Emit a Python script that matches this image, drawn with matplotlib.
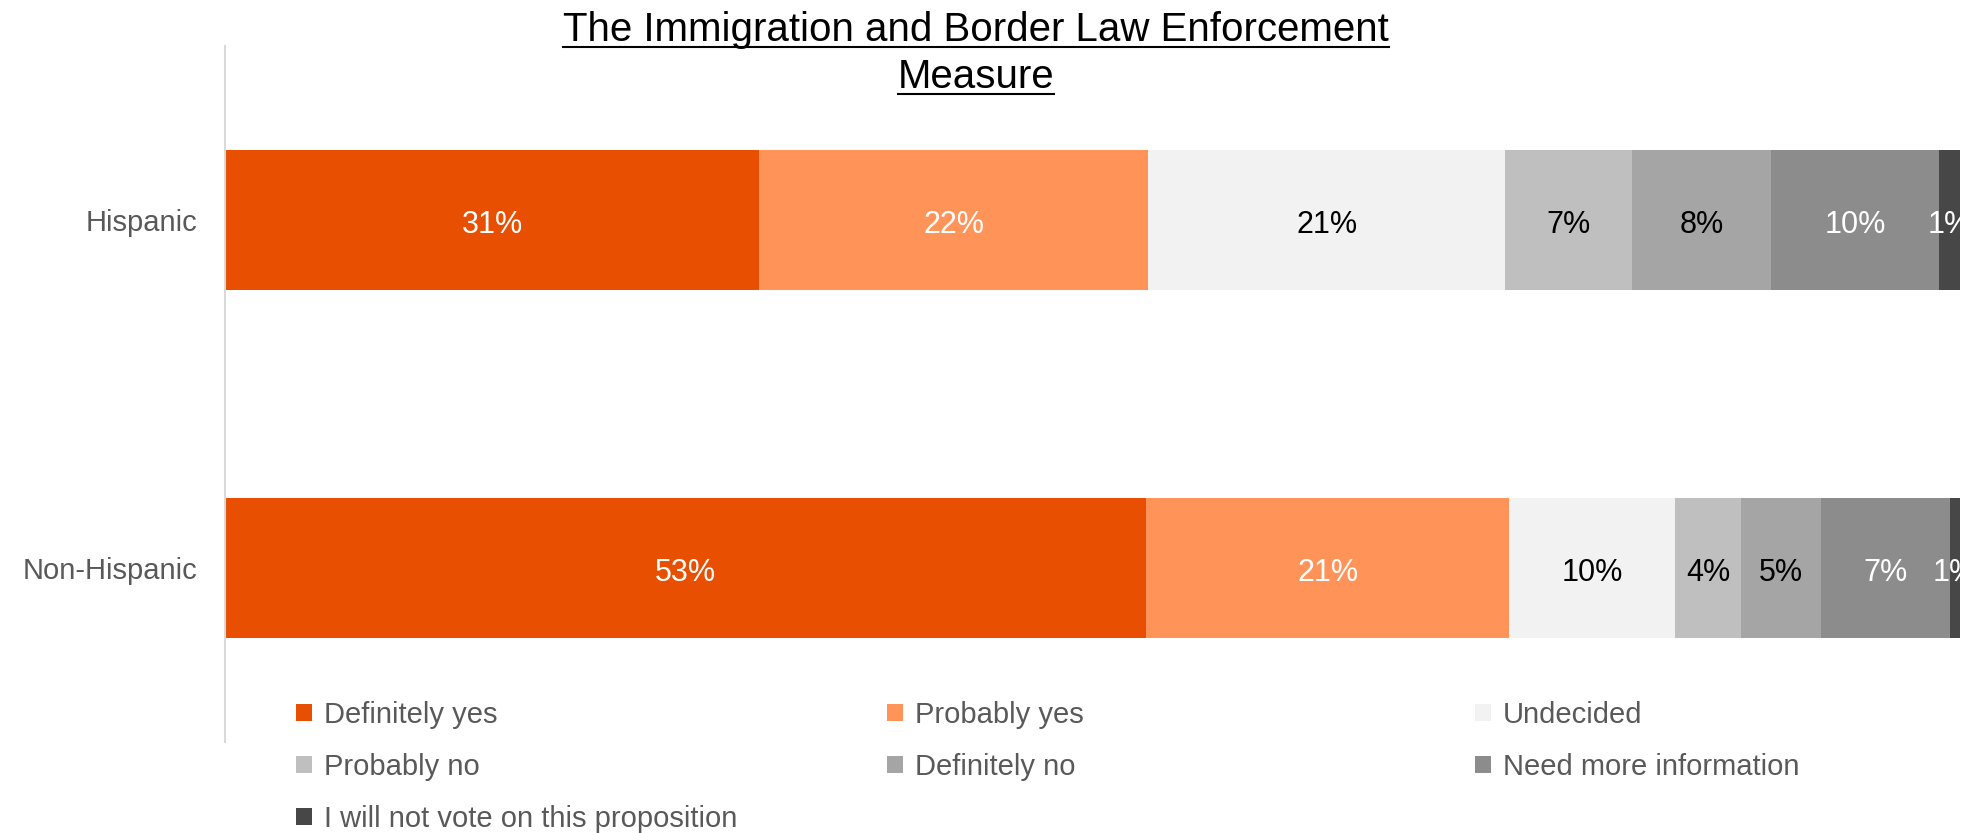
import matplotlib
matplotlib.use("Agg")
import matplotlib.pyplot as plt
from matplotlib.patches import Patch
from matplotlib.lines import Line2D
from matplotlib.transforms import ScaledTranslation

# ---------------- data ----------------
categories = ["Hispanic", "Non-Hispanic"]
series = ["Definitely yes", "Probably yes", "Undecided", "Probably no",
          "Definitely no", "Need more information",
          "I will not vote on this proposition"]
hispanic = [30.8, 22.4, 20.6, 7.3, 8.0, 9.7, 1.2]
non_hispanic = [53.1, 20.9, 9.6, 3.8, 4.6, 7.4, 0.6]
colors = ["#E84F00", "#FF9358", "#F2F2F2", "#BFBFBF", "#A5A5A5", "#8C8C8C", "#474747"]
label_colors = ["white", "white", "black", "black", "black", "white", "white"]
title_lines = ["The Immigration and Border Law Enforcement", "Measure"]

plt.rcParams['font.family'] = ['Liberation Sans', 'DejaVu Sans']

W, H = 1972, 833
fig = plt.figure(figsize=(W / 100, H / 100), dpi=100)
ax = fig.add_axes([225 / W, 1 - 742 / H, (1960 - 225) / W, (742 - 46) / H])

values = [hispanic, non_hispanic]
ypos = list(range(len(categories)))
lefts = [0.0] * len(categories)
handles = []
label_tf = ax.transData + ScaledTranslation(0, -5 / 100, fig.dpi_scale_trans)
for i, name in enumerate(series):
    widths = [v[i] for v in values]
    ax.barh(ypos, widths, left=lefts, height=0.4, color=colors[i],
            edgecolor="none", label=name)
    for y, l, w in zip(ypos, lefts, widths):
        ax.text(l + w / 2, y, f"{w:.0f}%", ha="center", va="center",
                color=label_colors[i], fontsize=22, transform=label_tf)
    lefts = [l + w for l, w in zip(lefts, widths)]
    handles.append(Patch(facecolor=colors[i], edgecolor="none", label=name))

ax.set_xlim(0, 100)
ax.set_ylim(1.5, -0.5)
ax.set_yticks(ypos)
ax.set_yticklabels(categories, fontsize=21, color="#595959")
ax.tick_params(axis="y", length=0, pad=20)
ax.set_xticks([])
for s in ["top", "right", "bottom"]:
    ax.spines[s].set_visible(False)
ax.spines["left"].set_color("#D9D9D9")
ax.spines["left"].set_linewidth(1.5)

# legend: three columns placed at fixed positions, row-major order
col_x = [296, 887, 1475]
col_items = [[0, 3, 6], [1, 4], [2, 5]]
for cx, items in zip(col_x, col_items):
    fig.legend(handles=[handles[k] for k in items], loc="upper left",
               bbox_to_anchor=(cx / W, 1 - 701 / H), frameon=False,
               fontsize=21, labelcolor="#595959", handlelength=0.55,
               handleheight=0.55, handletextpad=0.4, labelspacing=0.82,
               borderpad=0, borderaxespad=0)

# title with underline
title_texts = []
baselines = [41, 88]
for line, b in zip(title_lines, baselines):
    t = fig.text(976 / W, 1 - b / H, line, ha="center", va="baseline",
                 fontsize=29, color="black")
    title_texts.append((t, b))

fig.canvas.draw()
renderer = fig.canvas.get_renderer()
for t, b in title_texts:
    bb = t.get_window_extent(renderer)
    y = 1 - (b + 6) / H
    fig.add_artist(Line2D([bb.x0 / W, bb.x1 / W], [y, y], transform=fig.transFigure,
                          color="black", lw=1.5))

fig.savefig("out.png", dpi=100)
